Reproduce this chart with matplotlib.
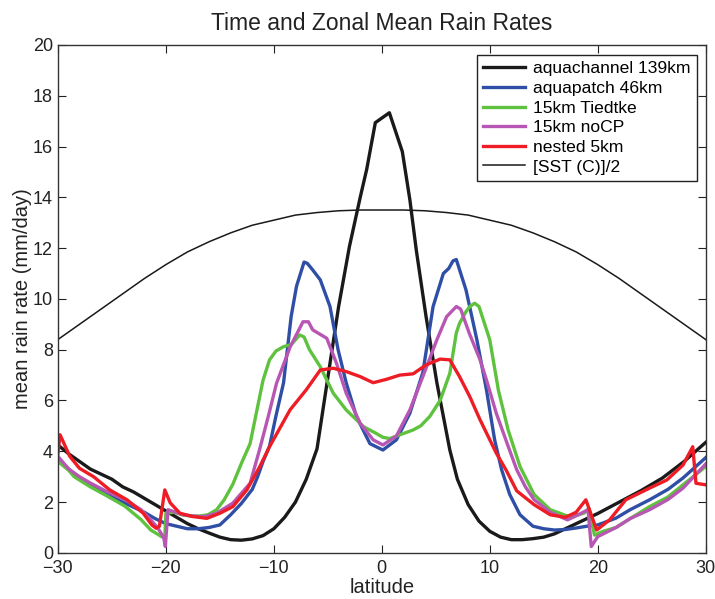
import matplotlib
matplotlib.use('Agg')
import matplotlib.pyplot as plt

plt.rcParams['font.family'] = ['Liberation Sans', 'DejaVu Sans']

# zonal mean rain rate (mm/day) against latitude for each run
lat_ch = [-30, -29, -28, -27, -26, -25, -24, -23, -22, -21, -20, -19, -18, -17, -16, -15, -14, -13,
          -12, -11, -10, -9, -8, -7, -6, -5, -4, -3, -2, -1.4, -0.6, 0.7, 1.9, 2.6, 3.2, 4.1, 5.1,
          6.3, 7, 8, 9, 10, 11, 12, 13, 14, 15, 16, 17, 18, 19, 20, 22, 24, 26, 28, 30]
rain_ch = [4.25, 3.9, 3.6, 3.3, 3.1, 2.9, 2.6, 2.4, 2.15, 1.9, 1.65, 1.4, 1.15, 0.95, 0.78, 0.62,
           0.52, 0.5, 0.55, 0.68, 0.95, 1.4, 2.0, 2.9, 4.1, 6.9, 9.7, 12.06, 14.0, 15.1, 16.94,
           17.33, 15.8, 13.9, 11.9, 9.3, 6.7, 4.05, 2.9, 1.9, 1.25, 0.85, 0.62, 0.52, 0.52, 0.56,
           0.62, 0.75, 0.95, 1.15, 1.35, 1.55, 2.0, 2.45, 2.95, 3.6, 4.35]

lat_patch = [-30, -29, -28, -27, -26, -25, -24, -23, -22, -21, -20, -19, -18, -17, -16, -15, -14,
             -13, -12, -11.5, -11, -10.4, -9.8, -9.1, -8.4, -7.9, -7.2, -6.9, -6.4, -5.7, -4.8,
             -4.05, -3.3, -2.35, -1.1, 0.1, 1.35, 2.6, 3.8, 4.75, 5.7, 6.2, 6.6, 6.9, 7.8, 8.8,
             9.7, 10.45, 11.1, 11.85, 12.8, 14, 15, 16, 17, 18, 19, 20, 21.7, 23, 24.8, 26.5,
             27.9, 30]
rain_patch = [3.7, 3.3, 2.95, 2.7, 2.45, 2.2, 2.0, 1.8, 1.6, 1.35, 1.15, 1.05, 0.95, 0.95, 1.0,
              1.1, 1.5, 1.95, 2.5, 3.0, 3.6, 4.2, 5.4, 6.7, 9.3, 10.5, 11.45, 11.4, 11.14, 10.75,
              9.7, 8.0, 6.7, 5.37, 4.3, 4.05, 4.45, 5.5, 7.1, 9.7, 11.0, 11.2, 11.5, 11.55, 10.35,
              8.4, 6.4, 4.45, 3.27, 2.3, 1.5, 1.05, 0.95, 0.9, 0.92, 0.98, 1.05, 1.1, 1.37, 1.7,
              2.09, 2.5, 2.95, 3.75]

lat_tied = [-30, -29, -28.5, -27, -25.4, -23.8, -22.3, -21.4, -20.4, -20.1, -20.0, -19.2, -18.5,
            -17.7, -16.9, -16.1, -15.3, -14.6, -13.8, -13.0, -12.2, -11.5, -11.0, -10.4, -9.8,
            -9.1, -8.4, -7.6, -7.2, -6.7, -5.7, -4.5, -3.3, -2.5, -1.7, -0.5, 0.1, 0.74, 1.35,
            2.9, 3.6, 4.44, 5.4, 6.3, 6.9, 7.2, 7.8, 8.15, 8.6, 9.0, 10.0, 10.8, 11.7, 12.8,
            14.1, 15.6, 17.2, 18.2, 18.75, 19.2, 19.7, 20.5, 21.7, 23, 24.8, 26.5, 27.9, 30]
rain_tied = [3.6, 3.25, 3.0, 2.6, 2.23, 1.84, 1.31, 0.9, 0.64, 0.6, 1.57, 1.6, 1.5, 1.45, 1.45,
             1.5, 1.7, 2.09, 2.7, 3.53, 4.3, 5.76, 6.8, 7.6, 7.95, 8.12, 8.2, 8.58, 8.5, 8.0,
             7.33, 6.29, 5.63, 5.3, 4.97, 4.7, 4.55, 4.5, 4.6, 4.84, 5.0, 5.37, 6.0, 7.07, 8.66,
             9.04, 9.5, 9.7, 9.83, 9.7, 8.39, 6.4, 4.84, 3.4, 2.3, 1.7, 1.45, 1.5, 1.57, 1.75,
             0.7, 0.85, 1.0, 1.35, 1.82, 2.2, 2.68, 3.4]

lat_nocp = [-30, -29, -28, -27, -25.4, -23.8, -22.3, -21.4, -20.7, -20.2, -20.05, -19.8, -18.4,
            -17.5, -16.5, -15.3, -13.8, -12.2, -11.3, -10.5, -9.75, -8.5, -7.3, -6.8, -6.4,
            -5.1, -4.2, -3.3, -2.0, -0.8, 0.1, 1.35, 2.6, 3.8, 5.1, 6.0, 6.9, 7.3, 8.1, 9.1,
            9.7, 10.6, 11.7, 12.5, 13.3, 14.1, 15.6, 17.2, 18.2, 19.1, 19.4, 20, 21.7, 23,
            24.8, 26.5, 27.9, 30]
rain_nocp = [3.8, 3.3, 3.0, 2.75, 2.4, 2.1, 1.7, 1.3, 0.95, 0.6, 0.25, 1.7, 1.5, 1.45, 1.42,
             1.56, 1.96, 2.74, 4.1, 5.4, 6.68, 8.1, 9.1, 9.1, 8.78, 8.45, 7.47, 6.29, 5.1, 4.45,
             4.25, 4.6, 5.63, 6.94, 8.39, 9.3, 9.7, 9.6, 8.65, 7.6, 6.8, 5.5, 4.2, 3.27, 2.6,
             2.1, 1.6, 1.3, 1.5, 1.7, 0.25, 0.64, 1.0, 1.35, 1.7, 2.1, 2.55, 3.5]

lat_nest = [-30, -29.8, -28.9, -28, -26.7, -25.2, -23.6, -22.1, -21.3, -20.9, -20.6, -20.1,
            -19.6, -18.7, -17.5, -16.2, -15.0, -13.8, -12.5, -11.3, -10.4, -8.5, -7.0, -5.7,
            -4.5, -3.3, -2.0, -0.8, 0.4, 1.67, 2.9, 4.1, 5.4, 6.3, 7.2, 8.15, 9.1, 10.6, 11.5,
            12.5, 14.1, 15.6, 17, 18, 18.9, 19.9, 21.1, 22.6, 24.8, 26.4, 27.9, 28.8, 29.1, 30]
rain_nest = [3.9, 4.65, 3.8, 3.33, 3.0, 2.48, 2.09, 1.56, 1.1, 0.97, 1.05, 2.48, 1.97, 1.56,
             1.43, 1.36, 1.56, 1.82, 2.48, 3.4, 4.18, 5.63, 6.42, 7.2, 7.27, 7.14, 6.94, 6.7,
             6.83, 7.0, 7.05, 7.4, 7.63, 7.6, 6.94, 6.15, 5.24, 3.93, 3.27, 2.44, 1.9, 1.5, 1.4,
             1.6, 2.09, 0.9, 1.3, 2.09, 2.55, 2.87, 3.46, 4.18, 2.74, 2.68]

# prescribed SST (deg C) halved
lat_sst = [-30, -28, -26, -24, -22, -20, -18, -16, -14, -12, -10, -8, -6, -4, -2, 0,
           2, 4, 6, 8, 10, 12, 14, 16, 18, 20, 22, 24, 26, 28, 30]
sst_half = [8.4, 9.0, 9.6, 10.2, 10.8, 11.35, 11.85, 12.25, 12.6, 12.9, 13.1, 13.3, 13.4, 13.47,
            13.5, 13.5, 13.5, 13.47, 13.4, 13.3, 13.1, 12.9, 12.6, 12.25, 11.85, 11.35, 10.8,
            10.2, 9.6, 9.0, 8.4]

fig = plt.figure(figsize=(7.15, 5.99), dpi=100)
ax = fig.add_axes([0.081, 0.077, 0.906, 0.848])

lw = 2.4
ax.plot(lat_ch, rain_ch, color='#1a1a1a', lw=lw, label='aquachannel 139km')
ax.plot(lat_patch, rain_patch, color='#2f4fa6', lw=lw, label='aquapatch 46km')
ax.plot(lat_tied, rain_tied, color='#5ec23e', lw=lw, label='15km Tiedtke')
ax.plot(lat_nocp, rain_nocp, color='#b857b3', lw=lw, label='15km noCP')
ax.plot(lat_nest, rain_nest, color='#ee1c25', lw=lw, label='nested 5km')
ax.plot(lat_sst, sst_half, color='#1a1a1a', lw=1.1, label='[SST (C)]/2')

ax.set_xlim(-30, 30)
ax.set_ylim(0, 20)
ax.set_xticks(range(-30, 31, 10))
ax.set_yticks(range(0, 21, 2))
ax.tick_params(direction='in', top=True, right=True, length=6, labelsize=13, colors='#222222')
ax.tick_params(axis='x', pad=5)
for s in ax.spines.values():
    s.set_linewidth(1.0)
    s.set_color('#333333')

ax.set_title('Time and Zonal Mean Rain Rates', fontsize=16.5, color='#222222', pad=11)
ax.set_xlabel('latitude', fontsize=14.5, color='#222222', labelpad=1)
ax.set_ylabel('mean rain rate (mm/day)', fontsize=14.5, color='#222222', labelpad=1)

leg = ax.legend(loc='upper right', bbox_to_anchor=(0.986, 0.98), fontsize=12.6,
                fancybox=False, framealpha=1, edgecolor='#222222', handlelength=2.4,
                labelspacing=0.25, borderpad=0.35, handletextpad=0.45, borderaxespad=0)
leg.get_frame().set_linewidth(1.0)

fig.savefig('out.png', dpi=100)
